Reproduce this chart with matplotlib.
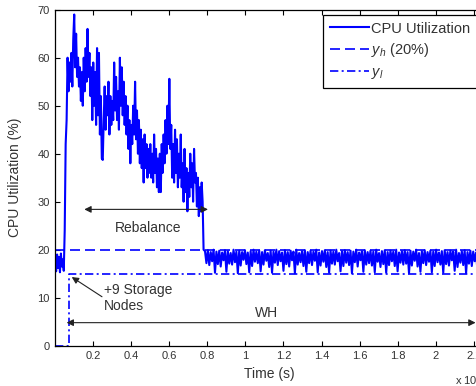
import numpy as np
import matplotlib
matplotlib.use("Agg")
import matplotlib.pyplot as plt

plt.rcParams['font.family'] = ['Liberation Sans', 'DejaVu Sans']
plt.rcParams['mathtext.fontset'] = 'custom'
plt.rcParams['mathtext.it'] = 'Liberation Sans:italic'
plt.rcParams['mathtext.rm'] = 'Liberation Sans'

# ---- data (time in units of 10^4 s) ----
dt_load = 0.005          # sample spacing, loaded phase
cpu_load = [
    17.0, 15.5, 19.0, 16.2, 18.5, 15.3, 19.2, 16.5, 18.0, 15.6,
    24, 42, 47, 60, 53, 59, 55, 61, 54, 64,
    69, 58, 65, 56, 60, 54, 58, 51, 57, 50,
    60, 53, 62, 55, 66, 56, 61, 52, 58, 47,
    59, 50, 57, 46, 62, 48, 61, 44, 52, 39,
    38.7, 47, 54, 45, 52, 48, 55, 44, 52, 46,
    51, 47, 59, 49, 56, 47, 53, 45, 60, 50,
    58, 48, 55, 46, 52, 44, 50, 41, 47, 38,
    46, 42, 50, 44, 55, 43, 49, 40, 47, 38,
    45, 37, 43, 34, 44, 37, 42, 35, 41, 36,
    42, 35, 40, 34, 44, 36, 41, 33, 39, 32,
    40, 32, 42, 36, 44, 38, 47, 40, 50, 42,
    55.6, 41, 46, 35, 42, 34, 45, 36, 43, 33,
    40, 35, 44, 33, 38, 30, 41, 32, 37, 28,
    36, 31, 40, 33, 38, 30, 41, 34, 36, 29,
    35, 27, 33, 28, 34, 30, 20,
]
t_flat_start = 0.7875
dt_flat = 0.0075
cpu_flat = [
    19.7, 17.2, 19.9, 16.8, 19.5, 17.6, 20.0, 15.2, 19.6, 17.0,
    19.8, 16.5, 19.4, 17.8, 19.9, 15.4, 19.7, 17.1, 19.3, 16.9,
    20.0, 17.4, 19.6, 15.1, 19.8, 16.7, 19.5, 17.9, 19.9, 17.0,
    19.4, 15.3, 19.7, 16.6, 20.0, 17.5, 19.6, 17.2, 19.8, 15.5,
    19.5, 16.9, 19.9, 17.7, 19.3, 16.4, 19.8, 15.2, 19.6, 17.3,
    20.0, 16.8, 19.7, 17.6, 19.4, 15.6, 19.9, 17.0, 19.5, 16.5,
    19.8, 17.8, 19.6, 15.1, 20.0, 16.9, 19.3, 17.4, 19.7, 16.6,
    19.9, 15.4, 19.5, 17.2, 19.8, 16.8, 19.6, 17.7, 20.0, 15.3,
    19.4, 16.7, 19.7, 17.5, 19.9, 16.4, 19.5, 15.2, 19.8, 17.1,
    19.6, 16.9, 20.0, 17.6, 19.3, 15.5, 19.7, 16.6, 19.9, 17.3,
    19.5, 16.8, 19.8, 15.1, 19.6, 17.4, 20.0, 16.5, 19.4, 17.8,
    19.7, 15.4, 19.9, 16.9, 19.5, 17.2, 19.8, 16.7, 19.6, 15.3,
    20.0, 17.5, 19.3, 16.4, 19.7, 17.0, 19.9, 15.2, 19.5, 16.8,
    19.8, 17.6, 19.6, 16.6, 20.0, 15.5, 19.4, 17.3, 19.7, 16.9,
    19.9, 17.1, 19.5, 15.1, 19.8, 16.7, 19.6, 17.7, 20.0, 16.5,
    19.3, 15.4, 19.7, 17.2, 19.9, 16.8, 19.5, 17.5, 19.8, 15.3,
    19.6, 16.6, 20.0, 17.4, 19.4, 16.9, 19.7, 15.2, 19.9, 17.0,
    19.5, 16.7, 19.8, 17.8, 19.6, 15.6, 20.0, 16.4, 19.3, 17.3,
    19.7, 16.8, 19.9, 15.1, 19.5, 17.1, 19.8, 16.6, 19.6, 17.6,
    19.4, 15.5, 20.0, 16.9, 19.7, 17.2,
]
y_h = 20
y_l = 15
t_nodes = 0.07
x_max = 2.25
xticks = [0.2, 0.4, 0.6, 0.8, 1.0, 1.2, 1.4, 1.6, 1.8, 2.0, 2.2]
xticklabels = ['0.2', '0.4', '0.6', '0.8', '1', '1.2', '1.4', '1.6', '1.8', '2', '2.2']
yticks = [0, 10, 20, 30, 40, 50, 60, 70]

t_load = np.arange(len(cpu_load)) * dt_load
t_flat = t_flat_start + np.arange(len(cpu_flat)) * dt_flat
t_all = np.concatenate([t_load, t_flat])
cpu_all = np.concatenate([cpu_load, cpu_flat])

txtc = '#333333'
fig = plt.figure(figsize=(4.76, 3.86), dpi=100)
ax = fig.add_axes([55.2 / 476, 40.3 / 386, 428 / 476, 336 / 386])

ax.plot(t_all, cpu_all, color='#0000ff', lw=1.5, label='CPU Utilization')
ax.plot([0, x_max], [y_h, y_h], color='#0000ff', lw=1.2, dashes=(6, 3),
        label='$y_h$ (20%)')
ax.plot([0, t_nodes, t_nodes, x_max], [0, 0, y_l, y_l], color='#0000ff', lw=1.2,
        dashes=(5, 2, 1.2, 2), label='$y_l$')

ax.set_xlim(0, x_max)
ax.set_ylim(0, 70)
ax.set_xticks(xticks)
ax.set_xticklabels(xticklabels)
ax.set_yticks(yticks)
ax.tick_params(direction='in', top=True, right=True, length=3.5, width=0.8,
               labelsize=8, labelcolor=txtc, pad=4)
for s in ax.spines.values():
    s.set_linewidth(0.9)

ax.set_xlabel('Time (s)', fontsize=10, color=txtc)
ax.xaxis.set_label_coords(0.5, -0.062)
ax.set_ylabel('CPU Utilization (%)', fontsize=10, color=txtc)
ax.yaxis.set_label_coords(-0.078, 0.5)
fig.text(455 / 476, 1 - 380 / 386, r'x 10$^4$', fontsize=8, color=txtc,
         ha='left', va='center')

arrow_kw = dict(arrowstyle='<|-|>', color='#222222', lw=0.8,
                mutation_scale=10, shrinkA=0, shrinkB=0)
ax.annotate('', xy=(0.153, 28.4), xytext=(0.803, 28.4), arrowprops=arrow_kw)
ax.text(0.49, 24.6, 'Rebalance', fontsize=10, color=txtc, ha='center', va='center')
ax.annotate('', xy=(0.06, 4.8), xytext=(2.21, 4.8), arrowprops=arrow_kw)
ax.text(1.11, 5.3, 'WH', fontsize=10, color=txtc, ha='center', va='bottom')
ax.annotate('', xy=(0.087, 14.3), xytext=(0.246, 10.2),
            arrowprops=dict(arrowstyle='-|>', color='#222222', lw=0.8,
                            mutation_scale=10, shrinkA=0, shrinkB=0))
ax.text(0.255, 10.0, '+9 Storage\nNodes', fontsize=10, color=txtc,
        ha='left', va='center', linespacing=1.15)

leg = ax.legend(loc='upper left', bbox_to_anchor=((323 - 55.2) / 428, (345.7 - 15) / 336),
                borderaxespad=0, fontsize=10.5, handlelength=2.7, handletextpad=0.15,
                labelspacing=0.4, borderpad=0.45, fancybox=False, framealpha=1,
                edgecolor='black')
leg.get_frame().set_linewidth(0.9)
for t in leg.get_texts():
    t.set_color(txtc)

fig.savefig('out.png', dpi=100)
